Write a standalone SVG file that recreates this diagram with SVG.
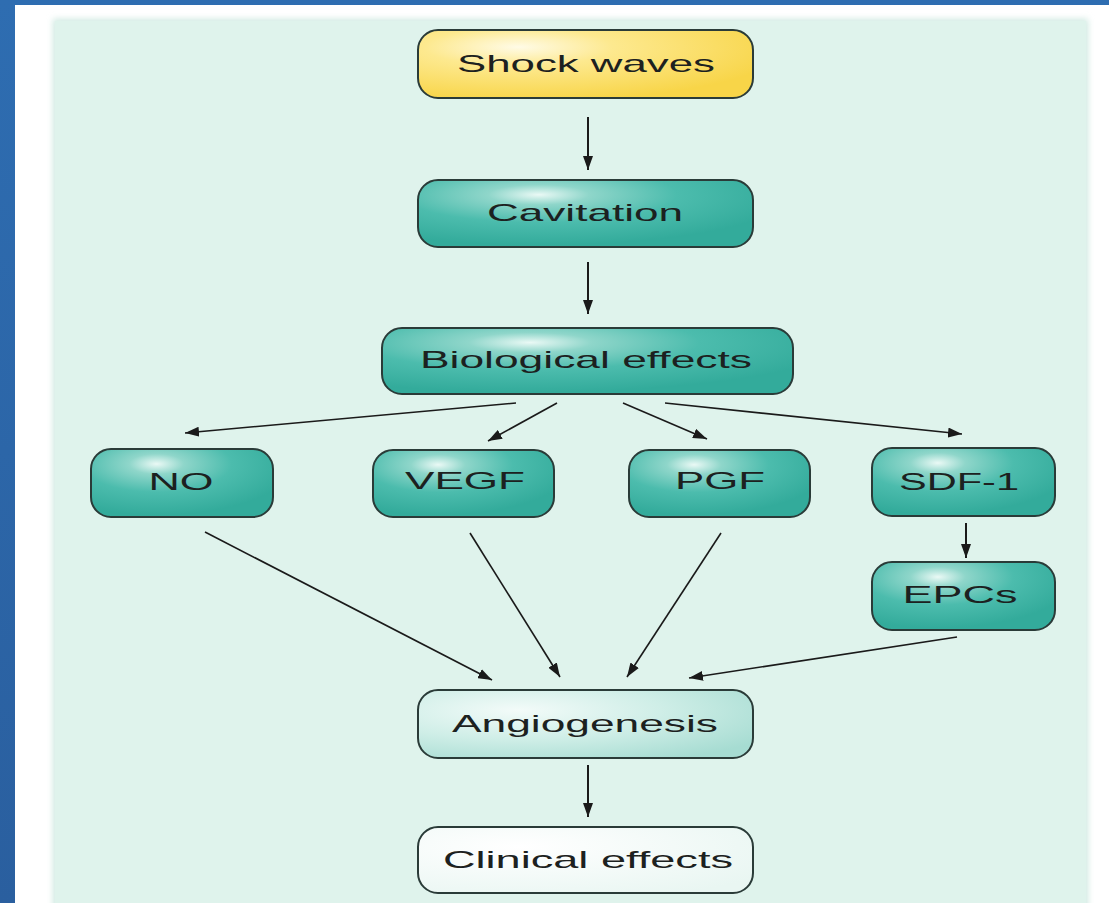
<svg xmlns="http://www.w3.org/2000/svg" width="1109" height="903" viewBox="0 0 1109 903">
<style>
.box{stroke:#2a3b38;stroke-width:2}
.lbl{font-family:"Liberation Sans",Arial,sans-serif;font-size:24px;fill:#1c2120;text-anchor:middle}
.c{stroke:#1a1a1a;fill:none}
</style>
<defs>
<linearGradient id="blue" x1="0" y1="0" x2="0" y2="1"><stop offset="0" stop-color="#2e6db1"/><stop offset="1" stop-color="#2a5f9f"/></linearGradient>
<radialGradient id="teal" cx="0.36" cy="0.22" r="0.75" fx="0.36" fy="0.22">
<stop offset="0" stop-color="#eaf9f5"/><stop offset="0.2" stop-color="#8fd6ca"/><stop offset="0.55" stop-color="#4cbcad"/><stop offset="1" stop-color="#33ab9b"/></radialGradient>
<radialGradient id="light" cx="0.3" cy="0.3" r="0.85" fx="0.3" fy="0.3">
<stop offset="0" stop-color="#f3fbf9"/><stop offset="0.5" stop-color="#cfeee7"/><stop offset="1" stop-color="#a6dcd2"/></radialGradient>
<radialGradient id="white" cx="0.3" cy="0.3" r="0.85">
<stop offset="0" stop-color="#ffffff"/><stop offset="1" stop-color="#e9f6f2"/></radialGradient>
<radialGradient id="yellow" cx="0.3" cy="0.25" r="0.8" fx="0.3" fy="0.25">
<stop offset="0" stop-color="#fffbe6"/><stop offset="0.35" stop-color="#fde98f"/><stop offset="1" stop-color="#f8d548"/></radialGradient>
<marker id="ah" viewBox="0 0 14 10" refX="14" refY="5" markerWidth="14" markerHeight="10" markerUnits="userSpaceOnUse" orient="auto">
<path d="M0,0 L14,5 L0,10 z" fill="#1a1a1a"/></marker>
<filter id="soft" x="-5%" y="-5%" width="110%" height="110%"><feGaussianBlur stdDeviation="3"/></filter>
</defs>
<rect width="1109" height="903" fill="url(#blue)"/>
<rect x="15" y="5" width="1094" height="898" fill="#ffffff"/>
<rect x="53" y="19" width="1035" height="900" fill="#cfe9e1" filter="url(#soft)"/>
<rect x="55" y="21" width="1031" height="890" fill="#dff3ec"/>

<g id="connectors">
<line class="c" x1="588" y1="117" x2="588" y2="170" stroke-width="2" marker-end="url(#ah)"/>
<line class="c" x1="588" y1="262" x2="588" y2="314" stroke-width="2" marker-end="url(#ah)"/>
<line class="c" x1="516" y1="403" x2="185" y2="433" stroke-width="1.6" marker-end="url(#ah)"/>
<line class="c" x1="557" y1="403" x2="488" y2="441" stroke-width="1.6" marker-end="url(#ah)"/>
<line class="c" x1="623" y1="403" x2="707" y2="439" stroke-width="1.6" marker-end="url(#ah)"/>
<line class="c" x1="665" y1="403" x2="962" y2="434" stroke-width="1.6" marker-end="url(#ah)"/>
<line class="c" x1="966" y1="523" x2="966" y2="558" stroke-width="2" marker-end="url(#ah)"/>
<line class="c" x1="205" y1="532" x2="492" y2="680" stroke-width="1.6" marker-end="url(#ah)"/>
<line class="c" x1="470" y1="533" x2="560" y2="677" stroke-width="1.6" marker-end="url(#ah)"/>
<line class="c" x1="721" y1="533" x2="627" y2="677" stroke-width="1.6" marker-end="url(#ah)"/>
<line class="c" x1="957" y1="637" x2="689" y2="678" stroke-width="1.6" marker-end="url(#ah)"/>
<line class="c" x1="588" y1="765" x2="588" y2="817" stroke-width="2" marker-end="url(#ah)"/>
</g>

<g id="shock">
<rect class="box" x="418" y="30" width="335" height="68" rx="20" fill="url(#yellow)"/>
<text class="lbl" x="586" y="72" textLength="258" lengthAdjust="spacingAndGlyphs">Shock waves</text>
</g>
<g id="cavitation">
<rect class="box" x="418" y="180" width="335" height="67" rx="20" fill="url(#teal)"/>
<text class="lbl" x="585" y="221" textLength="196" lengthAdjust="spacingAndGlyphs">Cavitation</text>
</g>
<g id="bio">
<rect class="box" x="382" y="328" width="411" height="66" rx="20" fill="url(#teal)"/>
<text class="lbl" x="586" y="368" textLength="332" lengthAdjust="spacingAndGlyphs">Biological effects</text>
</g>
<g id="no">
<rect class="box" x="91" y="449" width="182" height="68" rx="20" fill="url(#teal)"/>
<text class="lbl" x="181" y="490" textLength="65" lengthAdjust="spacingAndGlyphs">NO</text>
</g>
<g id="vegf">
<rect class="box" x="373" y="450" width="181" height="67" rx="20" fill="url(#teal)"/>
<text class="lbl" x="465" y="489" textLength="120" lengthAdjust="spacingAndGlyphs">VEGF</text>
</g>
<g id="pgf">
<rect class="box" x="629" y="450" width="181" height="67" rx="20" fill="url(#teal)"/>
<text class="lbl" x="720" y="489" textLength="90" lengthAdjust="spacingAndGlyphs">PGF</text>
</g>
<g id="sdf1">
<rect class="box" x="872" y="448" width="183" height="68" rx="20" fill="url(#teal)"/>
<text class="lbl" x="959" y="490" textLength="120" lengthAdjust="spacingAndGlyphs">SDF-1</text>
</g>
<g id="epcs">
<rect class="box" x="872" y="562" width="183" height="68" rx="20" fill="url(#teal)"/>
<text class="lbl" x="960" y="603" textLength="115" lengthAdjust="spacingAndGlyphs">EPCs</text>
</g>
<g id="angio">
<rect class="box" x="418" y="690" width="335" height="68" rx="20" fill="url(#light)"/>
<text class="lbl" x="585" y="732" textLength="266" lengthAdjust="spacingAndGlyphs">Angiogenesis</text>
</g>
<g id="clinical">
<rect class="box" x="418" y="827" width="335" height="66" rx="20" fill="url(#white)"/>
<text class="lbl" x="588" y="868" textLength="290" lengthAdjust="spacingAndGlyphs">Clinical effects</text>
</g>
</svg>
